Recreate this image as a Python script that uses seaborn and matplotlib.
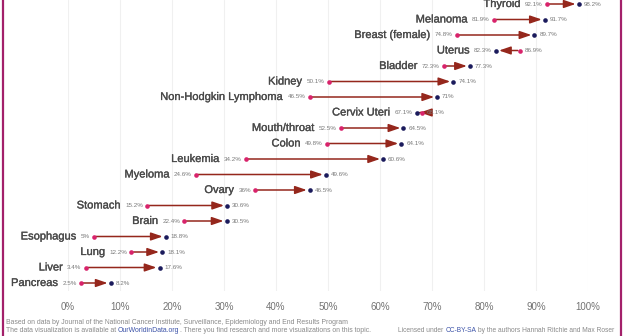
import matplotlib
matplotlib.use("Agg")
import matplotlib.pyplot as plt
import matplotlib.patheffects as pe
import seaborn as sns
import pandas as pd
from matplotlib.lines import Line2D

# ---- data ----
cancers = ["Thyroid", "Melanoma", "Breast (female)", "Uterus", "Bladder", "Kidney",
           "Non-Hodgkin Lymphoma", "Cervix Uteri", "Mouth/throat", "Colon", "Leukemia",
           "Myeloma", "Ovary", "Stomach", "Brain", "Esophagus", "Lung", "Liver", "Pancreas"]
survival_start = [92.1, 81.9, 74.8, 86.9, 72.3, 50.1, 46.5, 68.1, 52.5, 49.8, 34.2,
                  24.6, 36, 15.2, 22.4, 5, 12.2, 3.4, 2.5]
survival_end = [98.2, 91.7, 89.7, 82.3, 77.3, 74.1, 71, 67.1, 64.5, 64.1, 60.6,
                49.6, 46.5, 30.6, 30.5, 18.8, 18.1, 17.6, 8.2]
x_ticks = [0, 10, 20, 30, 40, 50, 60, 70, 80, 90, 100]
x_tick_labels = ["0%", "10%", "20%", "30%", "40%", "50%", "60%", "70%", "80%", "90%", "100%"]

source_line1 = ("Based on data by Journal of the National Cancer Institute, Surveillance, "
                "Epidemiology and End Results Program")
source_line2 = ["The data visualization is available at ", "OurWorldinData.org",
                ". There you find research and more visualizations on this topic."]
license_parts = ["Licensed under ", "CC-BY-SA", " by the authors Hannah Ritchie and Max Roser"]

# ---- style ----
PINK = "#d8236b"
NAVY = "#1b1b5c"
ARROW = "#95271c"
CAT_COL = "#4a4a4a"
VAL_COL = "#7a7a7a"
TICK_COL = "#737373"
FOOT_COL = "#8a8a8a"
LINK = "#3b52a8"
FRAME = "#a3206a"

sns.set_style("white")
plt.rcParams["font.family"] = ["Liberation Sans", "DejaVu Sans"]

W, H = 626, 336
fig = plt.figure(figsize=(W / 100, H / 100), dpi=100)
fig.patch.set_facecolor("white")

x0_px, x1_px = 68, 588
ax_bottom_px = 291
ax = fig.add_axes([x0_px / W, (H - ax_bottom_px) / H, (x1_px - x0_px) / W, ax_bottom_px / H])
row_px = 15.5
first_row_px = 4
ax.set_xlim(0, 100)
ax.set_ylim((ax_bottom_px - first_row_px) / row_px, -first_row_px / row_px)

df = pd.DataFrame({"cancer": cancers, "start": survival_start, "end": survival_end})
df["pos"] = range(len(df))

# arrows
for _, r in df.iterrows():
    ax.annotate("", xy=(r["end"], r["pos"]), xytext=(r["start"], r["pos"]),
                arrowprops=dict(arrowstyle="-|>,head_length=0.7,head_width=0.24",
                                color=ARROW, lw=1.1, shrinkA=1.5, shrinkB=2.2,
                                mutation_scale=10),
                zorder=2)

sns.scatterplot(data=df, x="start", y="pos", color=PINK, s=11, linewidth=0, ax=ax, zorder=3)
sns.scatterplot(data=df, x="end", y="pos", color=NAVY, s=11, linewidth=0, ax=ax, zorder=3)


def fmt(v):
    return f"{v:g}%"


semi = [pe.withStroke(linewidth=0.22, foreground=CAT_COL)]
for _, r in df.iterrows():
    lo, hi = min(r["start"], r["end"]), max(r["start"], r["end"])
    lt = ax.annotate(fmt(lo), xy=(lo, r["pos"]), xytext=(-3, 0), textcoords="offset points",
                     ha="right", va="center", fontsize=4.5, color=VAL_COL)
    ax.annotate(fmt(hi), xy=(hi, r["pos"]), xytext=(3.5, 0), textcoords="offset points",
                ha="left", va="center", fontsize=4.5, color=VAL_COL)
    ax.annotate(r["cancer"], xy=(0, 0.5), xycoords=lt, xytext=(-3, 0),
                textcoords="offset points", ha="right", va="center",
                fontsize=8, color=CAT_COL, path_effects=semi)

ax.set_xticks(x_ticks)
ax.set_xticklabels(x_tick_labels)
ax.set_yticks([])
ax.tick_params(axis="x", length=0, pad=8, labelsize=7, labelcolor=TICK_COL)
ax.grid(axis="x", color="#f0f0f0", lw=0.8)
ax.grid(axis="y", visible=False)
ax.set_axisbelow(True)
for s in ax.spines.values():
    s.set_visible(False)
ax.set_xlabel("")
ax.set_ylabel("")

# footer
fs = 4.95
fs_r = 4.75
fig.text(6 / W, 1 - 323 / H, source_line1, fontsize=fs, color=FOOT_COL, va="center", ha="left")
t0 = fig.text(6 / W, 1 - 331 / H, source_line2[0], fontsize=fs, color=FOOT_COL,
              va="center", ha="left")
t1 = ax.annotate(source_line2[1], xy=(1, 0), xycoords=t0, ha="left", va="bottom",
                 fontsize=fs, color=LINK, annotation_clip=False)
ax.annotate(source_line2[2], xy=(1, 0), xycoords=t1, ha="left", va="bottom",
            fontsize=fs, color=FOOT_COL, annotation_clip=False)

l0 = fig.text(398 / W, 1 - 331 / H, license_parts[0], fontsize=fs_r, color=FOOT_COL,
              va="center", ha="left")
l1 = ax.annotate(license_parts[1], xy=(1, 0), xycoords=l0, ha="left", va="bottom",
                 fontsize=fs_r, color=LINK, annotation_clip=False)
ax.annotate(license_parts[2], xy=(1, 0), xycoords=l1, ha="left", va="bottom",
            fontsize=fs_r, color=FOOT_COL, annotation_clip=False)

# magenta frame
fig.add_artist(Line2D([3 / W, 3 / W], [0, 1], color=FRAME, lw=1.6, transform=fig.transFigure))
fig.add_artist(Line2D([620.5 / W, 620.5 / W], [0, 1], color=FRAME, lw=1.6,
                      transform=fig.transFigure))

fig.savefig("out.png", dpi=100, facecolor="white")
